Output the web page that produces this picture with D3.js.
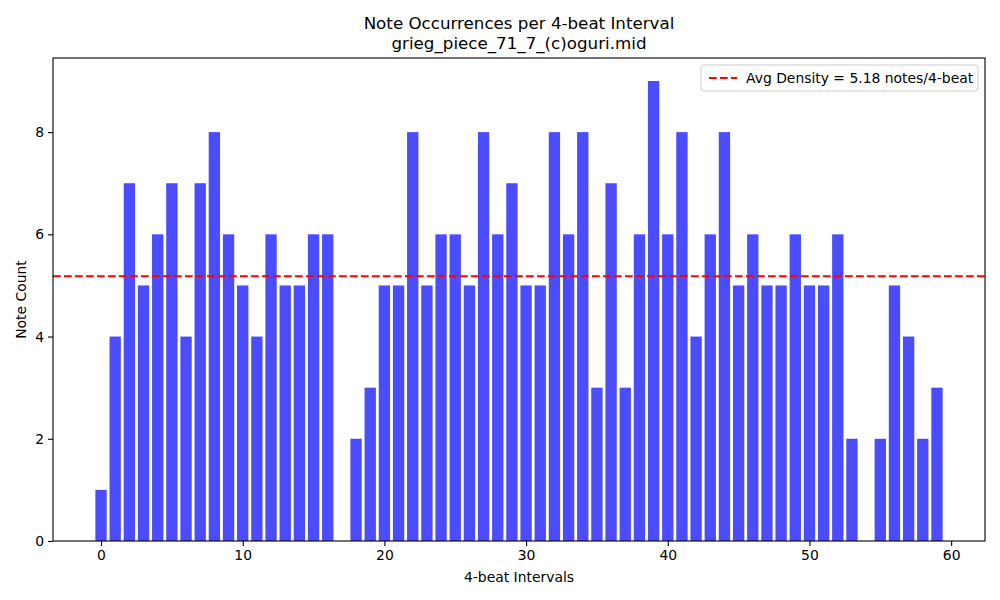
<!DOCTYPE html>
<html>
<head>
<meta charset="utf-8">
<script src="https://cdn.jsdelivr.net/npm/d3@7"></script>
<style>
body { margin: 0; background: #fff; }
text { font-family: "DejaVu Sans", sans-serif; fill: #000; }
</style>
</head>
<body>
<script>
// note counts per 4-beat interval
var intervals = d3.range(60);
var noteCounts = [1,4,7,5,6,7,4,7,8,6, 5,4,6,5,5,6,6,0,2,3,
                  5,5,8,5,6,6,5,8,6,7, 5,5,8,6,8,3,7,3,6,9,
                  6,8,4,6,8,5,6,5,5,6, 5,5,6,2,0,2,5,4,2,3];
var avgDensity = 5.18;
var xTicks = [0,10,20,30,40,50,60];
var yTicks = [0,2,4,6,8];
var titleLines = ["Note Occurrences per 4-beat Interval", "grieg_piece_71_7_(c)oguri.mid"];

//globals (plot area edges)
var width = 1000, height = 600;
var plotLeft = 53, plotRight = 985, plotTop = 58, plotBottom = 541;

var svg = d3.select("body").append("svg")
    .attr("width", width)
    .attr("height", height);

// matplotlib-style limits: bars -0.4..59.4 plus 5% margin
var x = d3.scaleLinear().domain([-3.39, 62.39]).range([plotLeft, plotRight]);
var y = d3.scaleLinear().domain([0, 9.45]).range([plotBottom, plotTop]);

//bars
svg.append("g").selectAll("rect")
    .data(noteCounts)
    .enter()
    .append("rect")
    .attr("x", function(d,i){ return x(intervals[i] - 0.4); })
    .attr("width", function(d,i){ return x(0.4) - x(-0.4); })
    .attr("y", function(d){ return y(d); })
    .attr("height", function(d){ return y(0) - y(d); })
    .attr("fill", "#0000ff")
    .attr("fill-opacity", 0.7);

//average line
svg.append("line")
    .attr("x1", plotLeft).attr("x2", plotRight)
    .attr("y1", y(avgDensity)).attr("y2", y(avgDensity))
    .attr("stroke", "red")
    .attr("stroke-width", 2)
    .attr("stroke-dasharray", "7.7,3.3");

//axes
var xAxis = svg.append("g")
    .attr("transform", "translate(0," + plotBottom + ")")
    .call(d3.axisBottom(x).tickValues(xTicks).tickSize(5).tickPadding(4).tickFormat(d3.format("d")));
var yAxis = svg.append("g")
    .attr("transform", "translate(" + plotLeft + ",0)")
    .call(d3.axisLeft(y).tickValues(yTicks).tickSize(5).tickPadding(4).tickFormat(d3.format("d")));
[xAxis, yAxis].forEach(function(a){
    a.select(".domain").remove();
    a.selectAll("text").attr("font-size", "13.9px").attr("font-family", "DejaVu Sans").attr("fill", "#000");
    a.selectAll("line").attr("stroke", "#000").attr("stroke-width", 1.1);
});

//frame
svg.append("rect")
    .attr("x", plotLeft).attr("y", plotTop)
    .attr("width", plotRight - plotLeft).attr("height", plotBottom - plotTop)
    .attr("fill", "none").attr("stroke", "#000").attr("stroke-width", 1.1);

//titles
svg.selectAll(".title")
    .data(titleLines)
    .enter()
    .append("text")
    .attr("class", "title")
    .attr("x", (plotLeft + plotRight) / 2)
    .attr("y", function(d,i){ return 29 + i * 20; })
    .attr("text-anchor", "middle")
    .attr("font-size", "16.7px")
    .text(function(d){ return d; });

svg.append("text")
    .attr("x", (plotLeft + plotRight) / 2)
    .attr("y", 582)
    .attr("text-anchor", "middle")
    .attr("font-size", "13.9px")
    .text("4-beat Intervals");

svg.append("text")
    .attr("transform", "translate(26," + ((plotTop + plotBottom) / 2) + ") rotate(-90)")
    .attr("text-anchor", "middle")
    .attr("font-size", "13.9px")
    .text("Note Count");

//legend
var legend = svg.append("g").attr("transform", "translate(701,65)");
legend.append("rect")
    .attr("width", 277).attr("height", 26)
    .attr("rx", 3)
    .attr("fill", "#fff").attr("fill-opacity", 0.8)
    .attr("stroke", "#ccc");
legend.append("line")
    .attr("x1", 8).attr("x2", 36)
    .attr("y1", 13).attr("y2", 13)
    .attr("stroke", "red").attr("stroke-width", 2)
    .attr("stroke-dasharray", "7.7,3.3");
legend.append("text")
    .attr("x", 45).attr("y", 18)
    .attr("font-size", "13.9px")
    .text("Avg Density = " + avgDensity.toFixed(2) + " notes/4-beat");
</script>
</body>
</html>
